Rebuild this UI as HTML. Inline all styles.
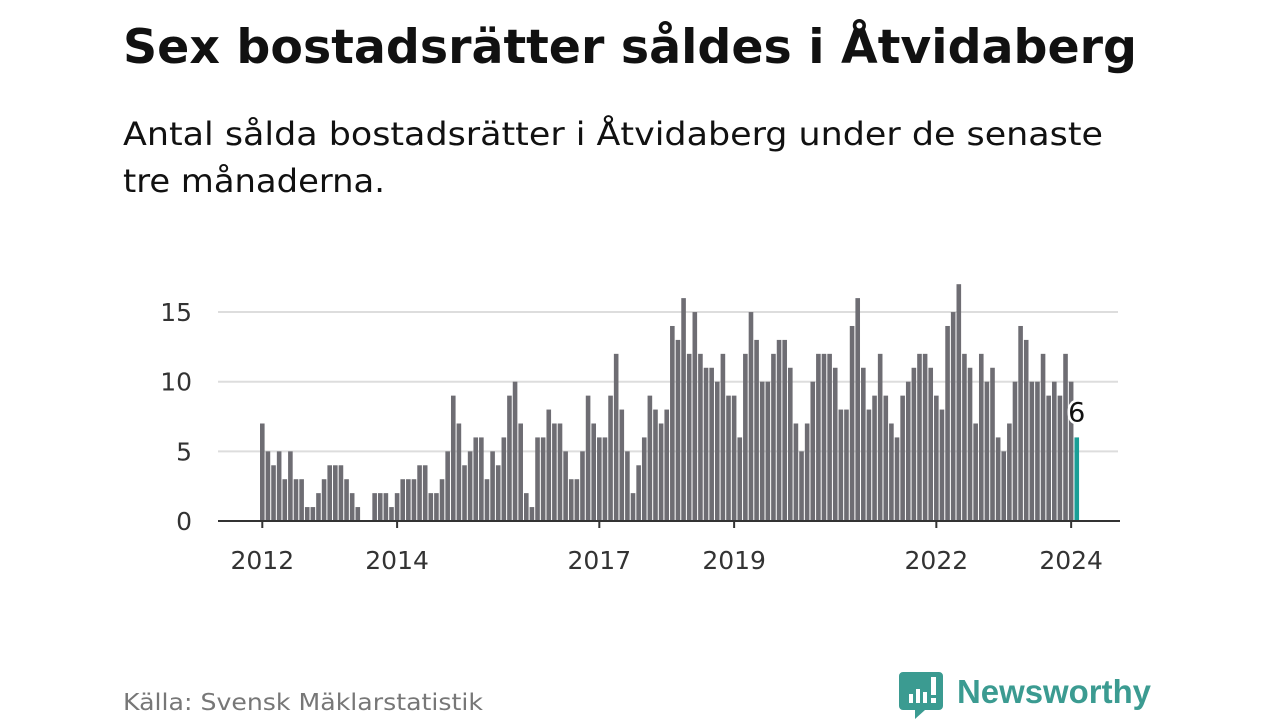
<!DOCTYPE html>
<html><head><meta charset="utf-8"><style>
html,body{margin:0;padding:0;background:#fff;}
svg{display:block;font-family:"DejaVu Sans","Liberation Sans",sans-serif;}
</style></head><body>
<svg id="chart" width="1280" height="720" viewBox="0 0 1280 720" xmlns="http://www.w3.org/2000/svg">
<text x="123" y="63" font-size="47" font-weight="bold" fill="#111" textLength="1014" lengthAdjust="spacingAndGlyphs">Sex bostadsrätter såldes i Åtvidaberg</text>
<text x="123" y="145" font-size="32" fill="#111" textLength="980" lengthAdjust="spacingAndGlyphs">Antal sålda bostadsrätter i Åtvidaberg under de senaste</text>
<text x="123" y="192" font-size="32" fill="#111" textLength="262" lengthAdjust="spacingAndGlyphs">tre månaderna.</text>
<g id="grid"></g>
<g id="bars"></g>
<g id="axes"></g>
<text x="123" y="710" font-size="23" fill="#777" textLength="360" lengthAdjust="spacingAndGlyphs">Källa: Svensk Mäklarstatistik</text>
<g>
<path d="M903 672 h36 a4 4 0 0 1 4 4 v30 a4 4 0 0 1 -4 4 h-14 l-10 9 v-9 h-12 a4 4 0 0 1 -4 -4 v-30 a4 4 0 0 1 4 -4z" fill="#3b9b91"/>
<rect x="909" y="694" width="4" height="9" fill="#fff"/>
<rect x="916" y="689" width="4" height="14" fill="#fff"/>
<rect x="923" y="692" width="4" height="11" fill="#fff"/>
<rect x="931" y="677" width="5" height="18" fill="#fff"/>
<rect x="931" y="698" width="5" height="5" fill="#fff"/>
<text x="957" y="703" font-size="33" font-weight="bold" fill="#3b9b91" font-family="Liberation Sans, sans-serif" textLength="194" lengthAdjust="spacingAndGlyphs">Newsworthy</text>
</g>
</svg>
<script>
const values = [7,5,4,5,3,5,3,3,1,1,2,3,4,4,4,3,2,1,0,0,2,2,2,1,2,3,3,3,4,4,2,2,3,5,9,7,4,5,6,6,3,5,4,6,9,10,7,2,1,6,6,8,
7,7,5,3,3,5,9,7,6,6,9,12,8,5,2,4,6,9,8,7,8,14,13,16,12,15,12,11,11,10,12,9,9,6,12,15,13,10,10,12,13,13,11,7,5,7,10,12,
12,12,11,8,8,14,16,11,8,9,12,9,7,6,9,10,11,12,12,11,9,8,14,15,17,12,11,7,12,10,11,6,5,7,10,14,13,10,10,12,9,10,9,12,10,6];
const startYear = 2012;
const yTicks = [0,5,10,15];
const xTickYears = [2012,2014,2017,2019,2022,2024];
const NS = "http://www.w3.org/2000/svg";
const x0 = 262.3, step = 5.617, yBase = 521, yUnit = 13.93;
function xs(i){ return x0 + i*step; }
function ys(v){ return yBase - v*yUnit; }
function mk(tag, attrs, parent){ const e=document.createElementNS(NS,tag); for(const k in attrs) e.setAttribute(k,attrs[k]); parent.appendChild(e); return e; }
const grid=document.getElementById('grid'), bars=document.getElementById('bars'), axes=document.getElementById('axes');
yTicks.forEach(t=>{
  if(t>0){
    const l=mk('line',{x1:218,x2:1118,y1:ys(t),y2:ys(t),stroke:'#ddd','stroke-width':2},grid);
    
    
  }
  const tx=mk('text',{x:192,y:ys(t)+9,'font-size':25,fill:'#333','text-anchor':'end'},axes);
  tx.textContent=t;
  
  
});
values.forEach((v,i)=>{
  if(v<=0) return;
  const last = i===values.length-1;
  const r=mk('rect',{x:xs(i)-2.3,y:ys(v),width:4.6,height:v*yUnit,fill:last?'#1a9e96':'#6e6d73'},bars);
  
  
});
const ax=mk('line',{x1:218,x2:1120,y1:yBase,y2:yBase,stroke:'#333','stroke-width':2},axes);


xTickYears.forEach(yr=>{
  const i=(yr-startYear)*12, x=xs(i);
  const tk=mk('line',{x1:x,x2:x,y1:yBase,y2:yBase+7,stroke:'#333','stroke-width':2},axes);
  
  
  const t=mk('text',{x:x,y:569,'font-size':25,fill:'#333','text-anchor':'middle'},axes);
  t.textContent=yr;
  
  
});
const li=values.length-1;
const lab=mk('text',{x:xs(li),y:ys(values[li])-16,'font-size':27,fill:'#111','text-anchor':'middle',stroke:'#fff','stroke-width':5,'paint-order':'stroke'},axes);
lab.textContent=values[li];


</script>
</body></html>
